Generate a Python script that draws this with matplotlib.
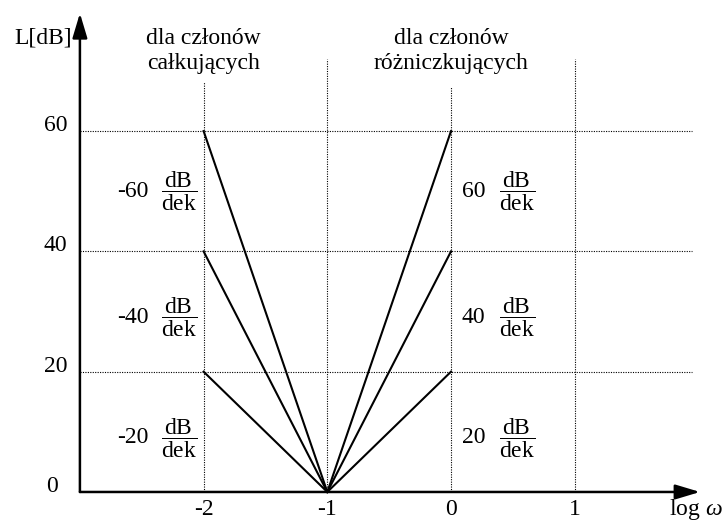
import matplotlib
matplotlib.use("Agg")
import matplotlib.pyplot as plt

plt.rcParams["font.family"] = ["Liberation Serif", "DejaVu Serif"]
plt.rcParams["mathtext.fontset"] = "custom"
plt.rcParams["mathtext.rm"] = "Liberation Serif"
plt.rcParams["mathtext.it"] = "Liberation Serif:italic"

# dane
x_ticks = [-2, -1, 0, 1]
y_ticks = [0, 20, 40, 60]
slopes = [20, 40, 60]          # dB/dek
x_start = -1                   # punkt wspolny
x_left = -2                    # czlony calkujace
x_right = 0                    # czlony rozniczkujace
label_rows = [9, 29, 50]       # wysokosc podpisow nachylen
grid_top = [68.2, 72.0, 67.3, 72.0]
headers = ["dla członów\ncałkujących", "dla członów\nróżniczkujących"]

FS = 17

fig = plt.figure(figsize=(7.26, 5.2), dpi=100)
ax = fig.add_axes([0, 0, 1, 1])
ax.set_xlim(-3.646, 2.223)
ax.set_ylim(-4.66, 81.8)
ax.axis("off")

# siatka kropkowana
grid_style = dict(color="black", lw=0.8, ls=(0, (1, 1.2)), zorder=1)
for y in y_ticks[1:]:
    ax.plot([-3, 1.95], [y, y], **grid_style)
for x, top in zip(x_ticks, grid_top):
    ax.plot([x, x], [0, top], **grid_style)

# osie ze strzalkami
arrow = dict(arrowstyle="-|>,head_length=1.5,head_width=0.45", lw=1.8,
             color="black", shrinkA=0, shrinkB=0)
ax.annotate("", xy=(2.013, 0), xytext=(-3, 0), arrowprops=arrow, zorder=3)
ax.annotate("", xy=(-3, 79.6), xytext=(-3, 0), arrowprops=arrow, zorder=3)

# charakterystyki
for s in slopes:
    ax.plot([x_start, x_left], [0, s], color="black", lw=1.5, zorder=2)
    ax.plot([x_start, x_right], [0, s], color="black", lw=1.5, zorder=2)

# podpisy osi
for y in y_ticks[1:]:
    ax.text(-3.104, y, str(y), ha="right", va="baseline", fontsize=FS)
ax.text(-3.18, 0, "0", ha="right", va="baseline", fontsize=FS)
for x in x_ticks:
    ax.text(x, -3.75, str(x), ha="center", va="baseline", fontsize=FS)
ax.text(1.76, -3.75, r"log $\omega$", ha="left", va="baseline", fontsize=FS)
ax.text(-3.065, 75.5, "L[dB]", ha="right", va="center", fontsize=FS)

# naglowki
ax.text(x_left, 73.3, headers[0], ha="center", va="center", fontsize=FS,
        linespacing=1.25)
ax.text(x_right, 73.3, headers[1], ha="center", va="center", fontsize=FS,
        linespacing=1.25)

# nachylenia
frac = r"$\dfrac{\mathrm{dB}}{\mathrm{dek}}$"
for s, row in zip(slopes, label_rows):
    ax.text(-2.57, row, f"-{s}", ha="center", va="center", fontsize=FS)
    ax.text(-2.20, row, frac, ha="center", va="center", fontsize=FS)
    ax.text(0.18, row, f"{s}", ha="center", va="center", fontsize=FS)
    ax.text(0.53, row, frac, ha="center", va="center", fontsize=FS)

fig.savefig("out.png", dpi=100)
plt.close(fig)
